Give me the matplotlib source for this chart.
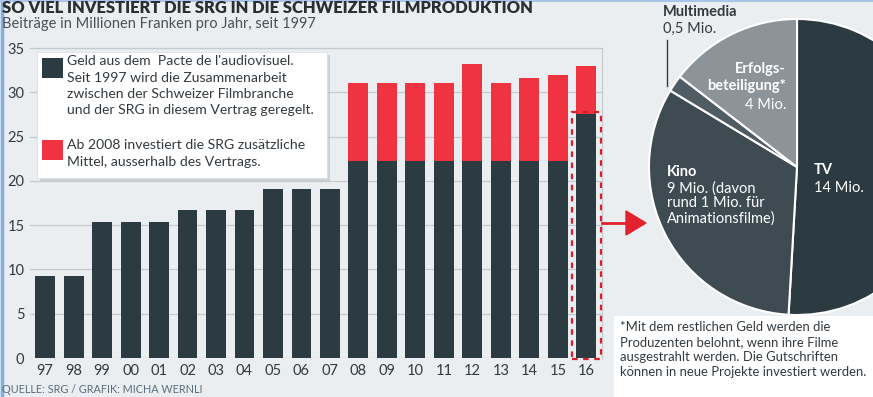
import matplotlib.pyplot as plt
from matplotlib.patches import Rectangle

plt.rcParams['font.family'] = ['Lato', 'DejaVu Sans']

# Daten: Beiträge in Mio. Franken pro Jahr
jahre = ['97', '98', '99', '00', '01', '02', '03', '04', '05', '06',
         '07', '08', '09', '10', '11', '12', '13', '14', '15', '16']
pacte = [9.3, 9.3, 15.4, 15.4, 15.4, 16.7, 16.7, 16.7, 19.1, 19.1,
         19.1, 22.2, 22.2, 22.2, 22.2, 22.2, 22.2, 22.2, 22.2, 27.5]
total = [9.3, 9.3, 15.4, 15.4, 15.4, 16.7, 16.7, 16.7, 19.1, 19.1,
         19.1, 31.1, 31.1, 31.1, 31.1, 33.2, 31.1, 31.6, 32.0, 33.0]
zusatz = [t - p for t, p in zip(total, pacte)]

# Aufteilung 2016
pie_labels = ['TV', 'Kino', 'Multimedia', 'Erfolgsbeteiligung']
pie_werte = [14, 9, 0.5, 4]

dunkel = '#2c3a42'
rot = '#ef3340'
bg = '#eaeef0'
txt = '#333a3f'

W, H = 873, 397
fig = plt.figure(figsize=(W / 100, H / 100), dpi=100)
fig.patch.set_facecolor(bg)

def fx(x):
    return x / W

def fy(y):
    return 1 - y / H

# --- Balkendiagramm ---
ax = fig.add_axes([fx(30), fy(358), fx(602 - 30), (358 - 48) / H])
ax.set_facecolor(bg)
x = range(len(jahre))
ax.bar(x, pacte, width=0.7, color=dunkel, zorder=3)
ax.bar(x, zusatz, bottom=pacte, width=0.7, color=rot, zorder=3)
ax.set_xlim(-0.53, 19.55)
ax.set_ylim(0, 35)
ax.set_yticks(range(0, 36, 5))
ax.set_xticks(list(x))
ax.set_xticklabels(jahre)
ax.grid(axis='y', color='#c5cacd', linewidth=0.9, zorder=0)
ax.tick_params(length=0, labelsize=10.5, colors=txt, pad=4)
for s in ax.spines.values():
    s.set_color('#c5cacd')
    s.set_linewidth(0.9)
ax.spines['bottom'].set_visible(False)
ax.spines['left'].set_visible(False)

# gestrichelter Rahmen um 2016
ax.add_patch(Rectangle((18.48, -0.15), 1.05, 27.9, fill=False, edgecolor='#d8202c',
                       linestyle=(0, (2.5, 2.5)), linewidth=1.6, zorder=4, clip_on=False))

# Legende mit Schatten
sh = Rectangle((fx(40), fy(181)), fx(290), 126 / H, transform=fig.transFigure,
               facecolor='#b8bec2', edgecolor='none', alpha=0.6, zorder=1)
fig.patches.append(sh)
lg = Rectangle((fx(37), fy(178)), fx(290), 126 / H, transform=fig.transFigure,
               facecolor='white', edgecolor='#d9dde0', linewidth=0.5, zorder=2)
fig.patches.append(lg)
fig.patches.append(Rectangle((fx(42), fy(78)), fx(21), 20 / H, transform=fig.transFigure,
                             facecolor=dunkel, edgecolor='none', zorder=3))
fig.patches.append(Rectangle((fx(42), fy(160)), fx(21), 20 / H, transform=fig.transFigure,
                             facecolor=rot, edgecolor='none', zorder=3))
fig.text(fx(67), fy(55), "Geld aus dem  Pacte de l'audiovisuel.\nSeit 1997 wird die Zusammenarbeit\n"
         "zwischen der Schweizer Filmbranche\nund der SRG in diesem Vertrag geregelt.",
         fontsize=10.1, color=txt, va='top', linespacing=1.45, zorder=4)
fig.text(fx(67), fy(139), "Ab 2008 investiert die SRG zusätzliche\nMittel, ausserhalb des Vertrags.",
         fontsize=10.1, color=txt, va='top', linespacing=1.45, zorder=4)

# --- Kuchendiagramm ---
r = 148
cx, cy = 797, 167
pax = fig.add_axes([fx(cx - r), fy(cy + r), fx(2 * r), 2 * r / H])
pax.pie(pie_werte, startangle=90, counterclock=False, radius=1,
        colors=[dunkel, '#3e4b53', '#4f5c63', '#8d9499'],
        wedgeprops=dict(edgecolor='white', linewidth=1.5))
pax.set_aspect('auto')
pax.set_xlim(-1, 1)
pax.set_ylim(-1, 1)

# Pfeil
fig.add_artist(plt.Line2D([fx(602), fx(630)], [fy(223), fy(223)], color='#e3222e', lw=2))
ar = plt.Polygon([[fx(626), fy(211)], [fx(646), fy(223)], [fx(626), fy(235)]],
                 closed=True, transform=fig.transFigure, color='#e3222e')
fig.add_artist(ar)

# Beschriftungen Kuchen
fig.text(fx(663), fy(5), 'Multimedia', fontsize=10.5, fontweight='bold', color=txt, va='top')
fig.text(fx(663), fy(22), '0,5 Mio.', fontsize=10.5, color=txt, va='top')
fig.add_artist(plt.Line2D([fx(667), fx(667)], [fy(40), fy(86)], color=txt, lw=1))
fig.text(fx(786), fy(62), 'Erfolgs-\nbeteiligung*', fontsize=10.5, fontweight='bold',
         color='white', va='top', ha='right', linespacing=1.25)
fig.text(fx(786), fy(98), '4 Mio.', fontsize=10.5, color='white', va='top', ha='right')
fig.text(fx(667), fy(165), 'Kino', fontsize=10.5, fontweight='bold', color='white', va='top')
fig.text(fx(667), fy(181), '9 Mio. (davon\nrund 1 Mio. für\nAnimationsfilme)', fontsize=10.5,
         color='white', va='top', linespacing=1.1)
fig.text(fx(814), fy(163), 'TV', fontsize=10.5, fontweight='bold', color='white', va='top')
fig.text(fx(814), fy(181), '14 Mio.', fontsize=10.5, color='white', va='top')

# Fussnote
fig.patches.append(Rectangle((fx(614), 0), fx(W - 614), (H - 316) / H, transform=fig.transFigure,
                             facecolor='white', edgecolor='none', zorder=5))
fig.text(fx(620), fy(321), '*Mit dem restlichen Geld werden die\nProduzenten belohnt, wenn ihre Filme\n'
         'ausgestrahlt werden. Die Gutschriften\nkönnen in neue Projekte investiert werden.',
         fontsize=9.4, color=txt, va='top', linespacing=1.3, zorder=6)

# Titel
fig.text(fx(2), fy(0), 'SO VIEL INVESTIERT DIE SRG IN DIE SCHWEIZER FILMPRODUKTION',
         fontsize=11.9, fontweight='heavy', color='#2a2f33', va='top')
fig.text(fx(2), fy(17), 'Beiträge in Millionen Franken pro Jahr, seit 1997',
         fontsize=10.5, color='#4a5258', va='top')
fig.text(fx(2), fy(384), 'QUELLE: SRG / GRAFIK: MICHA WERNLI', fontsize=7.8, color='#5b6d80', va='top')

# blauer Rand
fig.add_artist(plt.Line2D([0.002, 0.002], [0, 1], color='#7fb0e0', lw=2.5))
fig.add_artist(plt.Line2D([0, 1], [0.998, 0.998], color='#a9c6ea', lw=1.5))

fig.savefig('out.png', dpi=100, facecolor=bg)
